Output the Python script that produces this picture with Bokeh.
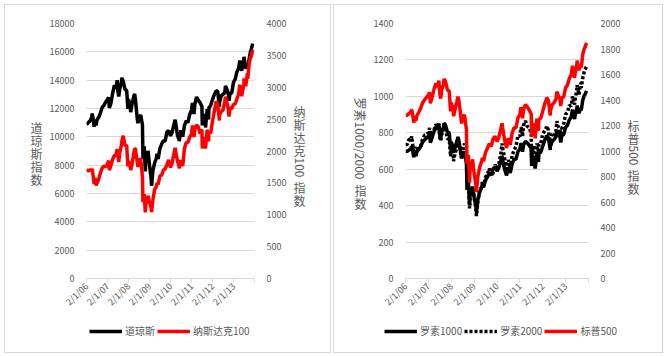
import math
import pandas as pd
from bokeh.plotting import figure
from bokeh.models import (Range1d, LinearAxis, FixedTicker, Legend, LegendItem,
                          Label, ColumnDataSource)
from bokeh.layouts import row, column
from bokeh.embed import file_html
from bokeh.resources import INLINE

# ---------------- data ----------------
month_dates = [d.strftime("%Y-%m-%d") for d in pd.date_range("2006-02-01", "2014-01-01", freq="MS")]

dow_m = [10864, 10993, 11109, 11367, 11168, 11150, 11186, 11381, 11679, 12081, 12221, 12463,
         12622, 12269, 12354, 13063, 13628, 13409, 13212, 13358, 13896, 13930, 13372, 13265,
         12650, 12266, 12263, 12820, 12638, 11350, 11378, 11544, 10851, 9325, 8829, 8776,
         8001, 7063, 7609, 8168, 8500, 8447, 9172, 9496, 9712, 9713, 10345, 10428,
         10067, 10325, 10857, 11009, 10137, 9774, 10466, 10015, 10788, 11118, 11006, 11578,
         11892, 12226, 12320, 12811, 12570, 12414, 12143, 11614, 10913, 11955, 12046, 12218,
         12633, 12952, 13212, 13214, 12393, 12880, 13009, 13091, 13437, 13096, 13026, 13104,
         13861, 14054, 14579, 14840, 15116, 14910, 15500, 14810, 15130, 15546, 16086, 16577]

ndx_m = [1710, 1685, 1703, 1700, 1580, 1575, 1490, 1560, 1655, 1735, 1760, 1756,
         1789, 1757, 1772, 1870, 1930, 1934, 1930, 1962, 2092, 2239, 2091, 2085,
         1842, 1760, 1781, 1950, 2030, 1837, 1860, 1872, 1598, 1325, 1183, 1212,
         1188, 1113, 1237, 1394, 1446, 1477, 1610, 1620, 1702, 1718, 1785, 1860,
         1741, 1811, 1957, 1993, 1849, 1764, 1856, 1764, 2036, 2134, 2133, 2218,
         2265, 2332, 2338, 2408, 2376, 2274, 2337, 2218, 2150, 2336, 2292, 2278,
         2462, 2605, 2757, 2737, 2562, 2615, 2640, 2771, 2799, 2660, 2678, 2661,
         2732, 2738, 2819, 2887, 2986, 2910, 3034, 3017, 3219, 3378, 3464, 3592]

spx_m = [1280, 1281, 1295, 1311, 1270, 1270, 1277, 1304, 1336, 1378, 1401, 1418,
         1438, 1407, 1421, 1482, 1531, 1503, 1455, 1474, 1527, 1549, 1481, 1468,
         1379, 1331, 1323, 1386, 1400, 1280, 1267, 1283, 1166, 969, 896, 903,
         826, 735, 798, 873, 919, 919, 987, 1021, 1057, 1036, 1096, 1115,
         1074, 1104, 1169, 1187, 1089, 1031, 1102, 1049, 1141, 1183, 1181, 1258,
         1286, 1327, 1326, 1364, 1345, 1321, 1292, 1219, 1131, 1253, 1247, 1258,
         1312, 1366, 1408, 1398, 1310, 1362, 1379, 1407, 1441, 1412, 1416, 1426,
         1498, 1515, 1569, 1598, 1631, 1606, 1686, 1633, 1682, 1757, 1806, 1848]

r1000_m = [698, 698, 706, 714, 691, 691, 695, 709, 725, 748, 761, 770,
           782, 765, 773, 806, 833, 818, 792, 802, 831, 843, 806, 800,
           750, 723, 718, 753, 760, 694, 687, 695, 631, 523, 484, 488,
           446, 397, 432, 474, 500, 501, 539, 558, 579, 568, 602, 612,
           590, 607, 644, 655, 601, 569, 609, 580, 631, 655, 654, 697,
           711, 734, 733, 754, 744, 730, 714, 674, 623, 692, 689, 693,
           726, 756, 779, 773, 724, 753, 763, 778, 797, 781, 783, 790,
           830, 841, 871, 887, 907, 893, 937, 908, 937, 979, 1006, 1030]

r2000_m = [733, 737, 765, 764, 721, 724, 699, 720, 725, 766, 786, 788,
           800, 793, 800, 814, 847, 834, 777, 792, 805, 828, 767, 766,
           713, 686, 687, 714, 747, 689, 713, 740, 680, 537, 473, 499,
           443, 390, 423, 487, 501, 508, 557, 572, 604, 562, 579, 625,
           602, 628, 679, 717, 663, 610, 651, 602, 677, 703, 727, 784,
           781, 823, 843, 865, 835, 827, 797, 726, 644, 742, 737, 741,
           792, 810, 830, 816, 762, 798, 786, 812, 837, 818, 821, 849,
           902, 911, 951, 947, 984, 977, 1045, 1011, 1074, 1100, 1143, 1164]

extra_dates = ["2006-05-10", "2006-06-13", "2006-07-18", "2007-02-20", "2007-03-05",
               "2007-07-19", "2007-08-16", "2007-10-09", "2008-01-22", "2008-03-10",
               "2008-05-19", "2008-07-15", "2008-10-10", "2008-11-20", "2009-01-06",
               "2009-03-09", "2009-06-12", "2010-04-23", "2010-07-02", "2011-02-18",
               "2011-03-16", "2011-08-08", "2011-10-03", "2011-11-25", "2012-04-02",
               "2012-06-01", "2012-09-14", "2012-11-15", "2013-05-21", "2013-06-24",
               "2013-08-02", "2013-10-08", "2013-11-27"]
dow_x = [11640, 10706, 10800, 12786, 12050, 14000, 12846, 14165, 11971, 11741, 13028, 10963,
         8451, 7552, 9015, 6547, 8800, 11205, 9686, 12391, 11613, 10810, 10655, 11231, 13264,
         12119, 13593, 12542, 15388, 14660, 15658, 14776, 16097]
ndx_x = [1720, 1480, 1460, 1850, 1700, 2030, 1829, 2150, 1760, 1700, 2040, 1750,
         1197, 1036, 1300, 1043, 1500, 2050, 1728, 2400, 2220, 2040, 2036, 2150, 2780,
         2478, 2850, 2540, 3040, 2860, 3140, 3130, 3480]
spx_x = [1325, 1223, 1236, 1460, 1374, 1553, 1411, 1565, 1311, 1273, 1426, 1215,
         899, 752, 935, 677, 946, 1217, 1022, 1343, 1257, 1119, 1099, 1159, 1419,
         1278, 1466, 1353, 1669, 1573, 1710, 1655, 1807]
r1000_x = [727, 666, 672, 800, 746, 849, 769, 853, 716, 690, 777, 660,
           486, 403, 505, 365, 516, 673, 565, 742, 696, 618, 603, 640, 786,
           705, 812, 747, 927, 875, 950, 923, 1008]
r2000_x = [781, 672, 679, 827, 760, 850, 756, 843, 670, 644, 740, 660,
           522, 385, 500, 343, 530, 741, 588, 830, 780, 650, 609, 667, 837,
           737, 864, 777, 1000, 955, 1062, 1048, 1140]

tick_dates = ["2006-02-01", "2007-02-01", "2008-02-01", "2009-02-01", "2010-02-01",
              "2011-02-01", "2012-02-01", "2013-02-01", "2014-02-01"]
tick_labels = ["2/1/06", "2/1/07", "2/1/08", "2/1/09", "2/1/10", "2/1/11", "2/1/12", "2/1/13", ""]

left_y_ticks = list(range(0, 18001, 2000))
left_y2_ticks = list(range(0, 4001, 500))
right_y_ticks = list(range(0, 1401, 200))
right_y2_ticks = list(range(0, 2001, 200))

# ---------------- helpers ----------------
ORIGIN = pd.Timestamp(tick_dates[0])
X_END = (pd.Timestamp(tick_dates[-1]) - ORIGIN).days


def to_x(dates):
    return [(pd.Timestamp(d) - ORIGIN).days for d in dates]


def make_source(vals_m, vals_x):
    df = pd.DataFrame({"x": to_x(month_dates) + to_x(extra_dates),
                       "v": list(vals_m) + list(vals_x)}).sort_values("x")
    return ColumnDataSource(dict(x=df["x"].tolist(), v=df["v"].tolist()))


FONT = "Noto Sans CJK SC"
TXT = "#595959"
GRID = "#D9D9D9"
tick_x = to_x(tick_dates)
ROW_H = 313
TOP_B = 18
BOT_B = 40
LEG_H = 34
LW = 3.5


def style_y(ax):
    ax.axis_line_color = None
    ax.major_tick_line_color = None
    ax.minor_tick_line_color = None
    ax.major_label_standoff = 6
    ax.major_label_text_font = FONT
    ax.major_label_text_font_size = "9px"
    ax.major_label_text_color = TXT


def make_main(width, lb, rb, y_end, y_ticks, y2_end, y2_ticks):
    p = figure(width=width, height=ROW_H, x_range=Range1d(0, X_END), y_range=Range1d(0, y_end),
               output_backend="svg", toolbar_location=None, title=None,
               min_border_left=lb, min_border_right=rb, min_border_top=TOP_B,
               min_border_bottom=BOT_B)
    p.extra_y_ranges = {"r": Range1d(0, y2_end)}
    p.outline_line_color = None
    p.xgrid.visible = False
    yl = p.yaxis[0]
    yl.ticker = FixedTicker(ticks=y_ticks)
    style_y(yl)
    p.ygrid.grid_line_color = GRID
    yr = LinearAxis(y_range_name="r", ticker=FixedTicker(ticks=y2_ticks))
    style_y(yr)
    p.add_layout(yr, "right")
    xa = p.xaxis[0]
    xa.ticker = FixedTicker(ticks=tick_x)
    xa.major_label_overrides = dict(zip(tick_x, tick_labels))
    xa.major_label_orientation = math.pi / 4
    xa.axis_line_color = GRID
    xa.major_tick_line_color = GRID
    xa.major_tick_out = 4
    xa.major_tick_in = 0
    xa.minor_tick_line_color = None
    xa.major_label_standoff = 2
    xa.major_label_text_font = FONT
    xa.major_label_text_font_size = "9px"
    xa.major_label_text_color = TXT
    return p


def blank_fig(width, height, top=0, bottom=0):
    # frame spans [top, height-bottom]; data units == pixels measured from the canvas top-left
    f = figure(width=width, height=height, x_range=Range1d(0, width),
               y_range=Range1d(height - bottom, top),
               x_axis_type=None, y_axis_type=None, output_backend="svg", toolbar_location=None,
               title=None, min_border_left=0, min_border_right=0,
               min_border_top=top, min_border_bottom=bottom)
    f.outline_line_color = None
    f.grid.visible = False
    return f


def seg_width(text):
    w = 0.0
    for ch in text:
        if ch.isdigit():
            w += 6.7
        elif ch == "/":
            w += 4.2
        else:
            w += 12.6
    return w + 1.0


def title_fig(width, segs, cx, top):
    f = blank_fig(width, ROW_H, TOP_B, BOT_B)
    y = top
    for i, (text, kind) in enumerate(segs):
        if kind == "stack":
            for ch in text:
                f.add_layout(Label(x=cx, y=y, text=ch, text_font=FONT, text_font_size="12px",
                                   text_color=TXT, text_align="center", text_baseline="top"))
                y += 13.0
        else:
            if i > 0:
                y += 3.0
            f.add_layout(Label(x=cx, y=y, text=text, text_font=FONT, text_font_size="12px",
                               text_color=TXT, angle=-math.pi / 2,
                               text_align="left", text_baseline="middle"))
            y += seg_width(text)
    return f


NAN = float("nan")


def legend_fig(width, entries, x0):
    f = blank_fig(width, LEG_H)
    items = []
    for label, color, dash in entries:
        # proxy renderer with a single undefined point: draws nothing, gives the legend its glyph
        r = f.line(x=[NAN], y=[NAN], line_color=color, line_width=LW, line_dash=dash)
        items.append(LegendItem(label=label, renderers=[r]))
    f.add_layout(Legend(items=items, orientation="horizontal", location=(x0, 14),
                        glyph_width=33, glyph_height=12, label_height=12, label_width=10,
                        label_standoff=3, spacing=2, padding=0, margin=0,
                        border_line_color=None, background_fill_alpha=0,
                        label_text_font=FONT, label_text_font_size="10px",
                        label_text_color=TXT))
    return f


# ---------------- left panel ----------------
m1 = make_main(243, 34, 30, 18000, left_y_ticks, 4000, left_y2_ticks)
m1.line("x", "v", source=make_source(dow_m, dow_x), line_color="#000000", line_width=LW)
m1.line("x", "v", source=make_source(ndx_m, ndx_x), y_range_name="r",
        line_color="#FF0000", line_width=LW)
tl1 = title_fig(41, [("道琼斯指数", "stack")], 31, 113)
tr1 = title_fig(41, [("纳斯达克", "stack"), ("100", "rot"), ("指数", "stack")], 10, 97)
lg1 = legend_fig(325, [("道琼斯", "#000000", "solid"), ("纳斯达克100", "#FF0000", "solid")], 84)
panel1 = column(row(tl1, m1, tr1), lg1)

# ---------------- right panel ----------------
m2 = make_main(253, 31, 30, 1400, right_y_ticks, 2000, right_y2_ticks)
m2.line("x", "v", source=make_source(r2000_m, r2000_x), line_color="#000000",
        line_width=LW, line_dash="3 2")
m2.line("x", "v", source=make_source(r1000_m, r1000_x), line_color="#000000", line_width=LW)
m2.line("x", "v", source=make_source(spx_m, spx_x), y_range_name="r",
        line_color="#FF0000", line_width=LW)
tl2 = title_fig(36, [("罗素1000/2000", "rot"), ("指数", "stack")], 26, 92)
tr2 = title_fig(39, [("标普", "stack"), ("500", "rot"), ("指数", "stack")], 10, 111)
lg2 = legend_fig(328, [("罗素1000", "#000000", "solid"), ("罗素2000", "#000000", "3 2"),
                       ("标普500", "#FF0000", "solid")], 50)
panel2 = column(row(tl2, m2, tr2), lg2)

panel1.margin = (5, 0, 0, 5)
panel2.margin = (5, 0, 0, 4)
panel1.styles = {"box-shadow": "0 0 0 1px #D9D9D9"}
panel2.styles = {"box-shadow": "0 0 0 1px #D9D9D9"}

layout = row(panel1, panel2)
open("out.html", "w").write(file_html(layout, INLINE))
